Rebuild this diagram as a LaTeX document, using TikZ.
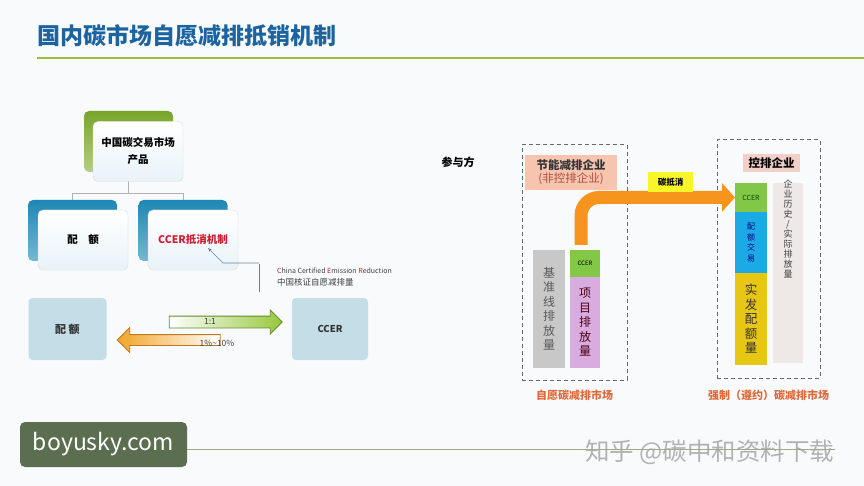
\documentclass[tikz,border=0pt]{standalone}
\usepackage{fontspec}
\newfontfamily\cjk{Noto Sans CJK SC}
\usetikzlibrary{positioning, shapes.arrows, arrows.meta, calc}
\definecolor{pagebg}{RGB}{248,250,252}
\definecolor{titleblue}{RGB}{28,100,160}
\definecolor{rulegreen}{RGB}{155,190,60}
\definecolor{treegreen}{RGB}{120,165,40}
\definecolor{treeteal}{RGB}{30,135,180}
\definecolor{frontbg}{RGB}{232,243,248}
\definecolor{linkgrey}{RGB}{110,130,150}
\definecolor{ccred}{RGB}{205,30,50}
\definecolor{quotablue}{RGB}{196,222,232}
\definecolor{arrgreen}{RGB}{150,200,60}
\definecolor{arrgreendk}{RGB}{100,140,40}
\definecolor{arrorange}{RGB}{240,165,40}
\definecolor{arrorangedk}{RGB}{190,120,30}
\definecolor{firmpink}{RGB}{246,196,175}
\definecolor{firmbrown}{RGB}{170,80,60}
\definecolor{basegrey}{RGB}{200,200,200}
\definecolor{ccergreen}{RGB}{130,200,70}
\definecolor{projpurple}{RGB}{216,172,222}
\definecolor{floworange}{RGB}{247,148,29}
\definecolor{tagyellow}{RGB}{248,245,40}
\definecolor{ctrlpink}{RGB}{242,208,200}
\definecolor{quotacyan}{RGB}{28,170,230}
\definecolor{issuegold}{RGB}{232,198,20}
\definecolor{histbg}{RGB}{238,232,230}
\definecolor{marketred}{RGB}{225,105,55}
\definecolor{dashgrey}{RGB}{100,105,110}
\definecolor{sitegreen}{RGB}{92,110,80}
\definecolor{footline}{RGB}{160,168,140}

\begin{document}
\begin{tikzpicture}[x=1pt, y=-1pt,
        backbox/.style={rounded corners=5pt, minimum width=89, minimum height=61, inner sep=0},
        frontbox/.style={rounded corners=5pt, draw=black!15, top color=white, bottom color=frontbg,
            minimum width=90, minimum height=60, inner sep=0, align=center,
            font=\cjk\bfseries\fontsize{10.5}{17}\selectfont},
        treeline/.style={draw=black!30, line width=0.8pt},
        plainbox/.style={fill=quotablue, rounded corners=4pt, minimum width=78, minimum height=62,
            font=\cjk\bfseries\fontsize{11}{13}\selectfont, text=black!80},
        blockarrow/.style={single arrow, inner sep=0, line width=0.8pt, anchor=tip},
        market/.style={draw=dashgrey, line width=1pt, dash pattern=on 4pt off 3pt, inner sep=0},
        colbar/.style={minimum width=32, inner sep=0, outer sep=0, align=center,
            font=\cjk\fontsize{12}{14.5}\selectfont},
        marketlbl/.style={text=marketred, font=\cjk\bfseries\fontsize{11}{13}\selectfont},
        flow/.style={draw=floworange, line width=13pt, rounded corners=18pt,
            -{Triangle[length=13pt, width=28pt]}}
        ]
        \fill[pagebg] (0,0) rectangle (864,486);
        \useasboundingbox (0,0) rectangle (864,486);

        \node[anchor=west, inner sep=0, text=titleblue,
            font=\cjk\bfseries\fontsize{23}{26}\selectfont] (title) at (37,36) {国内碳市场自愿减排抵销机制};
        \draw[rulegreen, line width=2.5pt] (37,58) -- (864,58);

        \node[backbox, top color=treegreen, bottom color=treegreen!55] (prodBack) at (128.5,141.5) {};
        \node[backbox, top color=treeteal, bottom color=treeteal!60] (quotaBack) at (72.5,230.5) {};
        \node[backbox, top color=treeteal, bottom color=treeteal!60] (ccerBack) at (183,230.5) {};
        \draw[treeline] (prodBack.south) -- ++(0,21) -| (quotaBack.north);
        \draw[treeline] (prodBack.south) -- ++(0,21) -| (ccerBack.north);
        \node[frontbox] (prodFront) at ([shift={(9.5,10)}]prodBack.center) {中国碳交易市场\\产品};
        \node[frontbox] (quotaFront) at ([shift={(10.5,9.5)}]quotaBack.center) {配\quad 额};
        \node[frontbox, text=ccred] (ccerFront) at ([shift={(10,9.5)}]ccerBack.center) {CCER抵消机制};

        \coordinate (noteBend) at (223,263);
        \coordinate (noteBrk) at (259,263);
        \draw[linkgrey, line width=0.6pt, {Stealth[length=4pt]}-] ([shift={(15,8)}]ccerFront.center) -- (noteBend) -- (noteBrk);
        \draw[linkgrey, line width=0.6pt] ([yshift=-1]noteBrk) -- ++(0,28);
        \node[anchor=west, align=left, inner sep=0, text=black!75, font=\cjk] (note) at (277,277)
            {{\fontsize{7}{10}\selectfont \textcolor{ccred}{C}hina Certified \textcolor{ccred}{E}mission \textcolor{ccred}{R}eduction}\\
             {\fontsize{8.5}{10}\selectfont 中国核证自愿减排量}};

        \node[plainbox] (quotaBox) at (67.5,329) {配 额};
        \node[plainbox, minimum width=76, font=\cjk\bfseries\fontsize{9.5}{12}\selectfont] (ccerBox) at (330,329) {CCER};
        \node[blockarrow, draw=arrgreendk, left color=white, right color=arrgreen,
            minimum height=113, single arrow head extend=6] (swapArr) at ([shift={(-9,-7)}]ccerBox.west) {\rule{0pt}{11pt}};
        \node[blockarrow, shape border rotate=180, draw=arrorangedk, left color=arrorange, right color=white,
            minimum height=103, single arrow head extend=7] (rateArr) at ([shift={(10,11)}]quotaBox.east) {\rule{0pt}{10pt}};
        \node[font=\cjk\fontsize{8.5}{10}\selectfont, text=black!75] (ratioA) at (210,322) {1:1};
        \node[font=\cjk\fontsize{8.5}{10}\selectfont, text=black!75] (ratioB) at (217,343) {1\%\textasciitilde10\%};

        \node[font=\cjk\bfseries\fontsize{11}{13}\selectfont] (party) at (458,162) {参与方};
        \node[market, minimum width=105, minimum height=235] (volBox) at (574.5,262.5) {};
        \node[marketlbl, below=6pt of volBox] (volLbl) {自愿碳减排市场};
        \node[fill=firmpink, minimum width=92, minimum height=35, inner sep=0, align=center,
            font=\cjk\fontsize{11.5}{13}\selectfont] (firm) at (571,172.5)
            {\textbf{\textcolor{black!80}{节能减排企业}}\\\textcolor{firmbrown}{(非控排企业)}};
        \node[colbar, fill=basegrey, minimum height=118, text=black!65] (baseBar) at (549,309) {基\\准\\线\\排\\放\\量};
        \node[colbar, fill=ccergreen, minimum width=30, minimum height=27,
            font=\cjk\fontsize{6}{7}\selectfont] (ccerA) at (585,263.5) {CCER};
        \node[colbar, fill=projpurple, minimum width=30, minimum height=91, below=0pt of ccerA,
            text=black!60!purple] (projBar) {项\\目\\排\\放\\量};

        \node[market, minimum width=103, minimum height=238] (mandBox) at (768.5,259) {};
        \node[marketlbl, below=8pt of mandBox] (mandLbl) {强制（遵约）碳减排市场};
        \node[fill=ctrlpink, minimum width=57, minimum height=18, inner sep=0,
            font=\cjk\bfseries\fontsize{11.5}{13}\selectfont] (ctrl) at (771.5,163.5) {控排企业};
        \node[colbar, fill=ccergreen, minimum height=29, font=\cjk\fontsize{7}{8}\selectfont,
            text=black!70!green] (ccerB) at (751,197.5) {CCER};
        \node[colbar, fill=quotacyan, minimum height=61, below=0pt of ccerB,
            font=\cjk\fontsize{8}{10.5}\selectfont, text=blue!50!black] (quotaB) {配\\额\\交\\易};
        \node[colbar, fill=issuegold, minimum height=92, below=0pt of quotaB,
            font=\cjk\fontsize{12.5}{14.5}\selectfont, text=black!80] (issueB) {实\\发\\配\\额\\量};
        \node[colbar, fill=histbg, minimum width=30, minimum height=180] (histBar) at (788,273) {};
        \node[anchor=north, align=center, inner sep=0, text=black!75,
            font=\cjk\fontsize{9}{10}\selectfont] (histTxt) at ([yshift=3]histBar.north) {企\\业\\历\\史\\/\\实\\际\\排\\放\\量};

        \draw[flow, shorten <=5pt] ([xshift=-4]ccerA.north) |- (ccerB.west);
        \node[fill=tagyellow, minimum width=45, minimum height=20, inner sep=0,
            font=\cjk\bfseries\fontsize{8.5}{10}\selectfont] (offsetTag) at (670.5,182) {碳抵消};

        \node[fill=sitegreen, rounded corners=5pt, minimum width=167, minimum height=45, text=white,
            font=\cjk\fontsize{23}{25}\selectfont] (site) at (103.5,444.5) {boyusky.com};
        \node[anchor=west, inner sep=0, text=black!30,
            font=\cjk\fontsize{24.5}{26}\selectfont] (mark) at (585,452) {知乎 @碳中和资料下载};
        \draw[footline, line width=1.5pt] ($(site.east)+(0,5)$) -- ($(site.east -| mark.east)+(0,5)$);
    \end{tikzpicture}
\end{document}
